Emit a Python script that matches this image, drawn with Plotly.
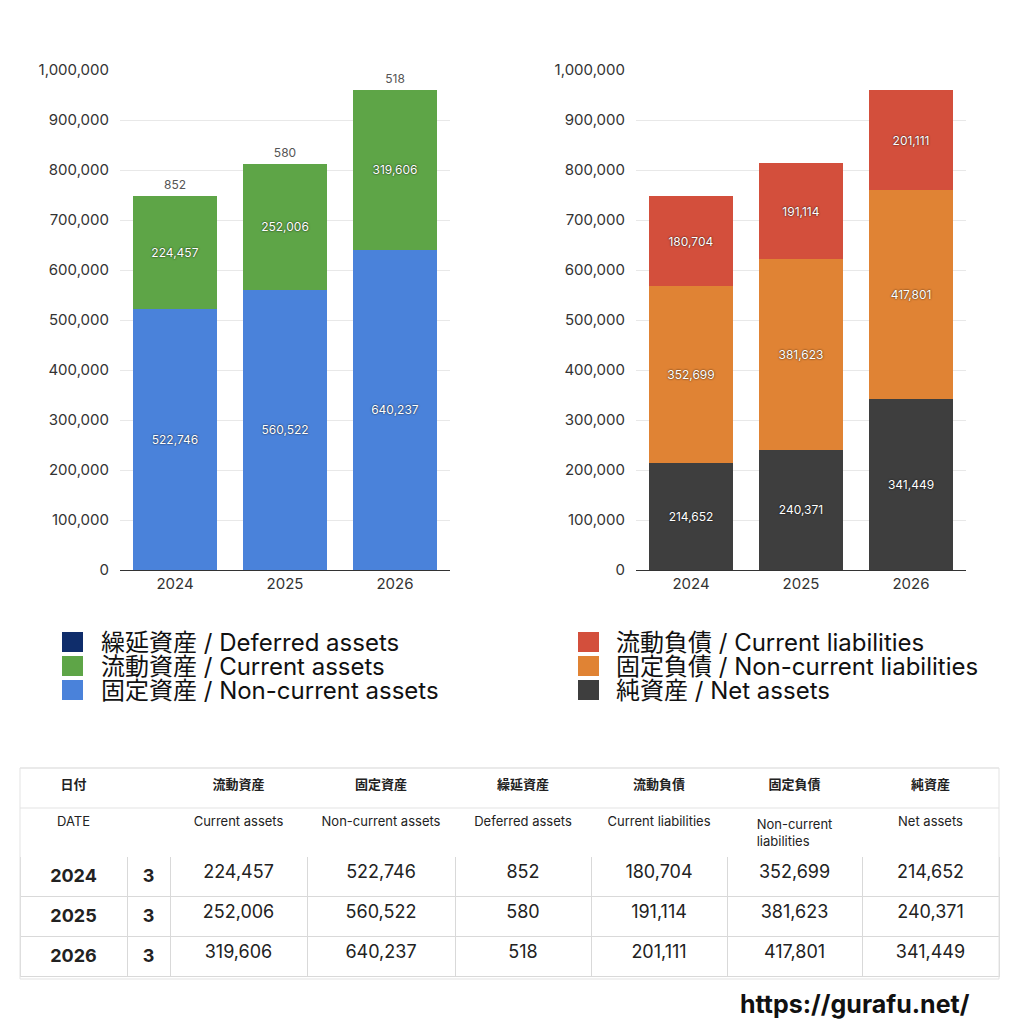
import plotly.graph_objects as go

# ---------------- data ----------------
years = ["2024", "2025", "2026"]
months = [3, 3, 3]
current_assets = [224457, 252006, 319606]
noncurrent_assets = [522746, 560522, 640237]
deferred_assets = [852, 580, 518]
current_liab = [180704, 191114, 201111]
noncurrent_liab = [352699, 381623, 417801]
net_assets = [214652, 240371, 341449]

left_names = ["繰延資産 / Deferred assets", "流動資産 / Current assets", "固定資産 / Non-current assets"]
right_names = ["流動負債 / Current liabilities", "固定負債 / Non-current liabilities", "純資産 / Net assets"]

hdr_jp = ["日付", "", "流動資産", "固定資産", "繰延資産", "流動負債", "固定負債", "純資産"]
hdr_en = ["DATE", "", "Current assets", "Non-current assets", "Deferred assets",
          "Current liabilities", "Non-current<br>liabilities", "Net assets"]

# ---------------- styles ----------------
FONT = "Inter, Noto Sans CJK JP, sans-serif"
C_DEF = "#0f2d6b"
C_CA = "#5ea547"
C_NCA = "#4a82da"
C_CL = "#d34f3c"
C_NCL = "#e08334"
C_NET = "#3e3e3e"

W = H = 1024


def px(x):
    return x / W


def py(y):
    return 1 - y / H


inside_font = dict(color="white", size=12, family=FONT, shadow="0px 0px 2px rgba(0,0,0,0.9)")

fig = go.Figure()


def add_bar(y, color, name, xa, ya, outside=False):
    fig.add_trace(go.Bar(
        x=years, y=y, name=name,
        marker=dict(color=color, line=dict(width=0), opacity=0 if outside else 1),
        texttemplate="%{y:,}",
        textposition="outside" if outside else "inside",
        insidetextanchor="middle",
        textfont=(dict(color="#555", size=12, family=FONT) if outside else inside_font),
        outsidetextfont=dict(color="#555", size=12, family=FONT),
        cliponaxis=False, showlegend=False, xaxis=xa, yaxis=ya,
    ))


add_bar(noncurrent_assets, C_NCA, left_names[2], "x", "y")
add_bar(current_assets, C_CA, left_names[1], "x", "y")
add_bar(deferred_assets, C_DEF, left_names[0], "x", "y", outside=True)

add_bar(net_assets, C_NET, right_names[2], "x2", "y2")
add_bar(noncurrent_liab, C_NCL, right_names[1], "x2", "y2")
add_bar(current_liab, C_CL, right_names[0], "x2", "y2")

# ---------------- table ----------------
def fmt(v):
    return f"{v:,}"

cols = [
    [f"<b>{y}</b>" for y in years],
    [f"<b>{m}</b>" for m in months],
    [fmt(v) for v in current_assets],
    [fmt(v) for v in noncurrent_assets],
    [fmt(v) for v in deferred_assets],
    [fmt(v) for v in current_liab],
    [fmt(v) for v in noncurrent_liab],
    [fmt(v) for v in net_assets],
]

fig.add_trace(go.Table(
    domain=dict(x=[px(20), px(999)], y=[py(980), py(768)]),
    columnwidth=[107, 43, 137, 148, 136, 136, 135, 137],
    header=dict(
        values=[[f"<b>{j}</b>" if j else "", e] for j, e in zip(hdr_jp, hdr_en)],
        fill_color="white",
        line=dict(color="white", width=1),
        align="center",
        height=40,
        font=dict(family=FONT, size=13, color="#222"),
    ),
    cells=dict(
        values=cols,
        fill_color="white",
        line=dict(color="#d9d9d9", width=1),
        align="center",
        height=40,
        font=dict(family=FONT, size=18, color="#222"),
    ),
))

# ---------------- layout ----------------
axis_y = dict(range=[0, 1000000], autorange=False, tickformat=",", dtick=100000, showgrid=True,
              gridcolor="#e8e8e8", zeroline=False, showline=False, ticks="",
              ticklabelstandoff=10, automargin=False,
              tickfont=dict(family=FONT, size=15, color="#333"))
axis_x = dict(type="category", showline=True, linecolor="#333", linewidth=1,
              ticks="", automargin=False, tickfont=dict(family=FONT, size=15, color="#333"))

shapes = []
annotations = []

# manual legends
for i, (name, col) in enumerate(zip(left_names, [C_DEF, C_CA, C_NCA])):
    yc = 642 + 24 * i
    shapes.append(dict(type="rect", xref="paper", yref="paper", x0=px(62), x1=px(83),
                       y0=py(yc + 10), y1=py(yc - 10), fillcolor=col, line=dict(width=0)))
    annotations.append(dict(text=name, xref="paper", yref="paper", x=px(99), y=py(yc),
                            xanchor="left", yanchor="middle", showarrow=False,
                            font=dict(family=FONT, size=24, color="#111")))
for i, (name, col) in enumerate(zip(right_names, [C_CL, C_NCL, C_NET])):
    yc = 642 + 24 * i
    shapes.append(dict(type="rect", xref="paper", yref="paper", x0=px(578), x1=px(599),
                       y0=py(yc + 10), y1=py(yc - 10), fillcolor=col, line=dict(width=0)))
    annotations.append(dict(text=name, xref="paper", yref="paper", x=px(614), y=py(yc),
                            xanchor="left", yanchor="middle", showarrow=False,
                            font=dict(family=FONT, size=24, color="#111")))

# table header horizontal lines & outer border
for yl in [768, 808]:
    shapes.append(dict(type="line", xref="paper", yref="paper", x0=px(20), x1=px(999),
                       y0=py(yl), y1=py(yl), line=dict(color="#e3e3e3", width=1)))
shapes.append(dict(type="rect", xref="paper", yref="paper", x0=px(20), x1=px(999),
                   y0=py(979), y1=py(768), line=dict(color="#e3e3e3", width=1)))

annotations.append(dict(text="<b>https://gurafu.net/</b>", xref="paper", yref="paper",
                        x=px(972), y=py(1004), xanchor="right", yanchor="middle",
                        showarrow=False, font=dict(family=FONT, size=25, color="#111")))

fig.update_layout(
    width=W, height=H, autosize=False,
    margin=dict(l=0, r=0, t=0, b=0, pad=0, autoexpand=False),
    paper_bgcolor="white", plot_bgcolor="white",
    barmode="stack", bargap=0.236,
    showlegend=False,
    xaxis=dict(domain=[px(120), px(450)], anchor="y", **axis_x),
    yaxis=dict(domain=[py(570), py(70)], anchor="x", **axis_y),
    xaxis2=dict(domain=[px(636), px(966)], anchor="y2", **axis_x),
    yaxis2=dict(domain=[py(570), py(70)], anchor="x2", **axis_y),
    shapes=shapes,
    annotations=annotations,
    font=dict(family=FONT),
)

fig.write_html("out.html")
